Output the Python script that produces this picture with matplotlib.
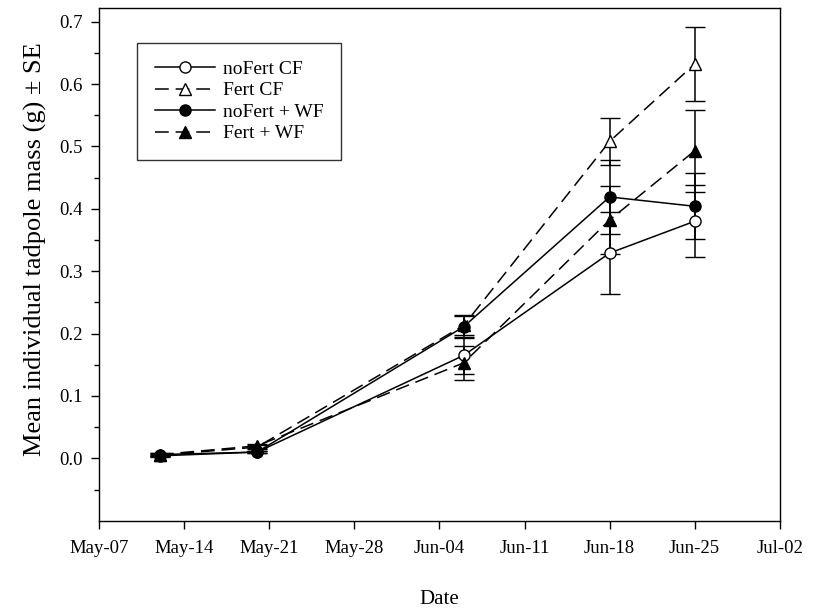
import numpy as np
import matplotlib.pyplot as plt
import matplotlib.dates as mdates
from matplotlib.lines import Line2D
from datetime import datetime, timedelta

plt.rcParams['font.family'] = ['Liberation Serif', 'DejaVu Serif']

# Sampling dates
dates = [datetime(2012, 5, 12), datetime(2012, 5, 20), datetime(2012, 6, 6),
         datetime(2012, 6, 18), datetime(2012, 6, 25)]

# Mean mass (g) and standard error for each treatment
nofert_cf = [0.004, 0.010, 0.165, 0.329, 0.380]
nofert_cf_se = [0.002, 0.002, 0.030, 0.066, 0.058]
fert_cf = [0.005, 0.018, 0.213, 0.508, 0.632]
fert_cf_se = [0.002, 0.003, 0.015, 0.038, 0.059]
nofert_wf = [0.006, 0.010, 0.211, 0.419, 0.404]
nofert_wf_se = [0.002, 0.002, 0.018, 0.059, 0.053]
fert_wf = [0.006, 0.020, 0.153, 0.382, 0.493]
fert_wf_se = [0.002, 0.003, 0.027, 0.055, 0.066]

fig = plt.figure(figsize=(8.26, 6.09), dpi=100)
ax = fig.add_axes([0.12, 0.145, 0.824, 0.842])

dash = (0, (9, 4.5))
common = dict(color='black', lw=1.1, ms=8, capsize=7, elinewidth=1.1,
              capthick=1.1, markeredgewidth=1.0)

series = [
    (nofert_cf, nofert_cf_se, 'o', 'white', '-', 'noFert CF'),
    (fert_cf, fert_cf_se, '^', 'white', dash, 'Fert CF'),
    (nofert_wf, nofert_wf_se, 'o', 'black', '-', 'noFert + WF'),
    (fert_wf, fert_wf_se, '^', 'black', dash, 'Fert + WF'),
]
handles = []
for y, se, mk, fc, ls, lab in series:
    ax.errorbar(dates, y, yerr=se, marker=mk, mfc=fc, ls=ls, **common)
    handles.append(Line2D([], [], color='black', lw=1.1, ls=ls, marker=mk,
                          mfc=fc, ms=8, mec='black', label=lab))

start = datetime(2012, 5, 7)
ax.set_xlim(start, datetime(2012, 7, 2))
ax.set_ylim(-0.1, 0.722)
ax.set_xticks([start + timedelta(days=7 * i) for i in range(9)])
ax.xaxis.set_major_formatter(mdates.DateFormatter('%b-%d'))
ax.set_yticks(np.arange(0, 0.71, 0.1))
ax.set_yticks(np.arange(-0.05, 0.71, 0.05), minor=True)
ax.yaxis.set_major_formatter(plt.FormatStrFormatter('%.1f'))

ax.tick_params(axis='both', which='major', direction='out', length=6,
               width=1, labelsize=13.5, pad=8)
ax.tick_params(axis='y', which='major', pad=6)
ax.tick_params(axis='y', which='minor', direction='out', length=3.5, width=1)
for s in ax.spines.values():
    s.set_linewidth(1.0)

ax.set_xlabel('Date', fontsize=15, labelpad=24)
ax.set_ylabel('Mean individual tadpole mass (g) ± SE', fontsize=19)
ax.yaxis.set_label_coords(-0.077, 0.53)

leg = ax.legend(handles=handles, loc='upper left',
                bbox_to_anchor=(0.056, 0.932), borderaxespad=0, fontsize=14,
                frameon=True, fancybox=False, edgecolor='black',
                handlelength=3.1, borderpad=0.9, labelspacing=0.2,
                handletextpad=0.4)
leg.get_frame().set_linewidth(1.0)

fig.savefig('out.png', dpi=100)
